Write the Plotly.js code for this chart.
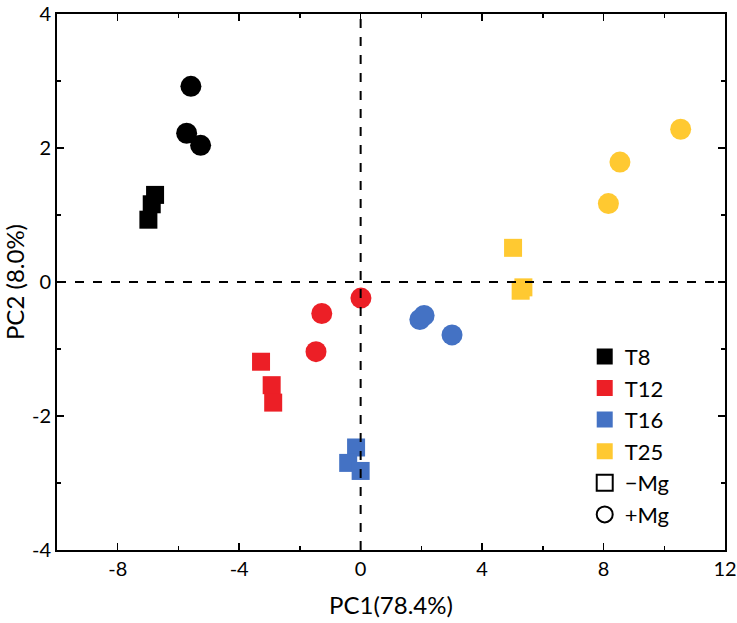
<!DOCTYPE html>
<html>
<head>
<meta charset="utf-8">
<script src="https://cdn.plot.ly/plotly-3.0.1.min.js"></script>
<style>html,body{margin:0;padding:0;background:#fff}#chart{width:737px;height:623px}</style>
</head>
<body>
<div id="chart"></div>
<script>
// Groups and colours
const groups = ["T8", "T12", "T16", "T25"];
const colors = ["#000000", "#ec1f26", "#4472c4", "#ffc931"];

// -Mg (squares) PC1 / PC2
const minusMgX = [
  [-6.77, -6.88, -6.99],
  [-3.28, -2.93, -2.88],
  [-0.15, -0.41, 0.00],
  [5.02, 5.36, 5.27]
];
const minusMgY = [
  [1.30, 1.16, 0.93],
  [-1.19, -1.54, -1.80],
  [-2.47, -2.70, -2.82],
  [0.51, -0.08, -0.13]
];
// +Mg (circles) PC1 / PC2
const plusMgX = [
  [-5.59, -5.73, -5.27],
  [0.01, -1.28, -1.47],
  [1.95, 2.09, 3.01],
  [10.54, 8.54, 8.16]
];
const plusMgY = [
  [2.92, 2.22, 2.04],
  [-0.24, -0.47, -1.04],
  [-0.56, -0.50, -0.79],
  [2.28, 1.79, 1.17]
];

const xTickVals = [-8, -4, 0, 4, 8, 12];
const xTickText = ["-8", "-4", "0", "4", "8", "12"];
const yTickVals = [-4, -2, 0, 2, 4];
const yTickText = ["-4", "-2", "0", "2", "4"];

const FONT = "Lato, 'Liberation Sans', sans-serif";
const traces = [];
groups.forEach((g, i) => {
  traces.push({
    x: minusMgX[i], y: minusMgY[i], type: "scatter", mode: "markers",
    marker: {symbol: "square", size: 18, color: colors[i], line: {width: 0}},
    showlegend: false, hoverinfo: "x+y"
  });
  traces.push({
    x: plusMgX[i], y: plusMgY[i], type: "scatter", mode: "markers",
    marker: {symbol: "circle", size: 21, color: colors[i], line: {width: 0}},
    showlegend: false, hoverinfo: "x+y"
  });
});
// legend-only entries
groups.forEach((g, i) => {
  traces.push({
    x: [null], y: [null], type: "scatter", mode: "markers", name: g,
    marker: {symbol: "square", size: 24, color: colors[i]}
  });
});
traces.push({x: [null], y: [null], type: "scatter", mode: "markers", name: "\u2212Mg",
  marker: {symbol: "square-open", size: 24, color: "#000", line: {width: 2}}});
traces.push({x: [null], y: [null], type: "scatter", mode: "markers", name: "+Mg",
  marker: {symbol: "circle-open", size: 24, color: "#000", line: {width: 2}}});

const axisCommon = {
  showgrid: false, zeroline: false, showline: true, linecolor: "#000", linewidth: 2,
  mirror: "ticks", ticks: "inside", ticklen: 7, tickwidth: 1.5, tickcolor: "#000",
  ticklabeloverflow: "allow",
  tickfont: {family: FONT, size: 20, color: "#000"}
};

const layout = {
  width: 737, height: 623,
  margin: {l: 57, r: 12, t: 14, b: 73},
  paper_bgcolor: "#fff", plot_bgcolor: "#fff",
  font: {family: FONT, color: "#000"},
  xaxis: Object.assign({}, axisCommon, {
    range: [-10, 12], tickmode: "array", tickvals: xTickVals, ticktext: xTickText,
    minor: {dtick: 2, tick0: 0, ticks: "inside", ticklen: 4, tickwidth: 1.5, tickcolor: "#000"},
    title: {text: "PC1(78.4%)", font: {family: FONT, size: 24, color: "#000"}, standoff: 18}
  }),
  yaxis: Object.assign({}, axisCommon, {
    range: [-4, 4], tickmode: "array", tickvals: yTickVals, ticktext: yTickText,
    minor: {dtick: 1, tick0: 0, ticks: "inside", ticklen: 4, tickwidth: 1.5, tickcolor: "#000"},
    title: {text: "PC2 (8.0%)", font: {family: FONT, size: 24, color: "#000"}, standoff: 2}
  }),
  shapes: [
    {type: "line", xref: "x", yref: "paper", x0: 0, x1: 0, y0: 0, y1: 1,
     line: {color: "#000", width: 2, dash: "dash"}},
    {type: "line", xref: "paper", yref: "y", x0: 0, x1: 1, y0: 0, y1: 0,
     line: {color: "#000", width: 2, dash: "dash"}}
  ],
  legend: {
    x: 0.79, y: 0.40, xanchor: "left", yanchor: "top",
    bgcolor: "rgba(0,0,0,0)", borderwidth: 0,
    font: {family: FONT, size: 22, color: "#000"},
    tracegroupgap: 0, itemsizing: "trace"
  },
  showlegend: true
};

Plotly.newPlot("chart", traces, layout, {displayModeBar: false, staticPlot: true});
</script>
</body>
</html>
